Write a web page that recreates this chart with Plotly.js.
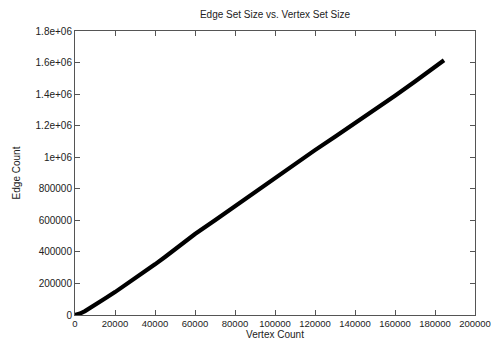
<!DOCTYPE html>
<html>
<head>
<meta charset="utf-8">
<script src="https://cdn.plot.ly/plotly-3.0.1.min.js"></script>
<style>html,body{margin:0;padding:0;background:#fff;}#chart{width:491px;height:342px;}</style>
</head>
<body>
<div id="chart"></div>
<script>
// Data
const vertexCount = [0, 2500, 5000, 7500, 10000, 15000, 20000, 25000, 30000, 35000, 40000, 45000, 50000, 55000, 60000, 70000, 80000, 90000, 100000, 110000, 120000, 130000, 140000, 150000, 160000, 170000, 180000, 184500];
const edgeCount = [0, 9000, 25000, 43000, 65000, 104000, 145000, 188000, 232000, 276000, 321000, 368000, 418000, 465000, 513000, 600000, 690000, 780000, 870000, 960000, 1045000, 1130000, 1215000, 1300000, 1390000, 1480000, 1570000, 1615000];
const xTickVals = [0, 20000, 40000, 60000, 80000, 100000, 120000, 140000, 160000, 180000, 200000];
const xTickText = ["0", "20000", "40000", "60000", "80000", "100000", "120000", "140000", "160000", "180000", "200000"];
const yTickVals = [0, 200000, 400000, 600000, 800000, 1000000, 1200000, 1400000, 1600000, 1800000];
const yTickText = ["0", "200000", "400000", "600000", "800000", "1e+06", "1.2e+06", "1.4e+06", "1.6e+06", "1.8e+06"];

const font = {family: "Liberation Sans, Arial, sans-serif", size: 10, color: "#222"};
const xFont = {family: "Liberation Sans, Arial, sans-serif", size: 9.5, color: "#222"};

const trace = {
  x: vertexCount, y: edgeCount, type: "scatter", mode: "lines",
  line: {color: "#000", width: 4.2}, hoverinfo: "skip", showlegend: false
};

const axisCommon = {
  showline: true, linecolor: "#555", linewidth: 1, mirror: "allticks",
  ticks: "inside", ticklen: 5, tickcolor: "#555", tickwidth: 1,
  showgrid: false, zeroline: false, automargin: false, fixedrange: true
};

const layout = {
  width: 491, height: 342,
  margin: {l: 75, r: 16, t: 31, b: 27, pad: 0},
  paper_bgcolor: "#fff", plot_bgcolor: "#fff",
  font: font,
  title: {text: "Edge Set Size vs. Vertex Set Size", font: font, x: 0.56, xanchor: "center", y: 0.957, yanchor: "middle"},
  xaxis: Object.assign({}, axisCommon, {
    range: [0, 200000], tickmode: "array", tickvals: xTickVals, ticktext: xTickText, tickfont: xFont,
    title: {text: "Vertex Count", font: font, standoff: 1}
  }),
  yaxis: Object.assign({}, axisCommon, {
    range: [0, 1800000], tickmode: "array", tickvals: yTickVals, ticktext: yTickText, tickfont: font,
    title: {text: "Edge Count", font: font, standoff: 13}
  })
};

Plotly.newPlot("chart", [trace], layout, {displayModeBar: false, staticPlot: true});
</script>
</body>
</html>
